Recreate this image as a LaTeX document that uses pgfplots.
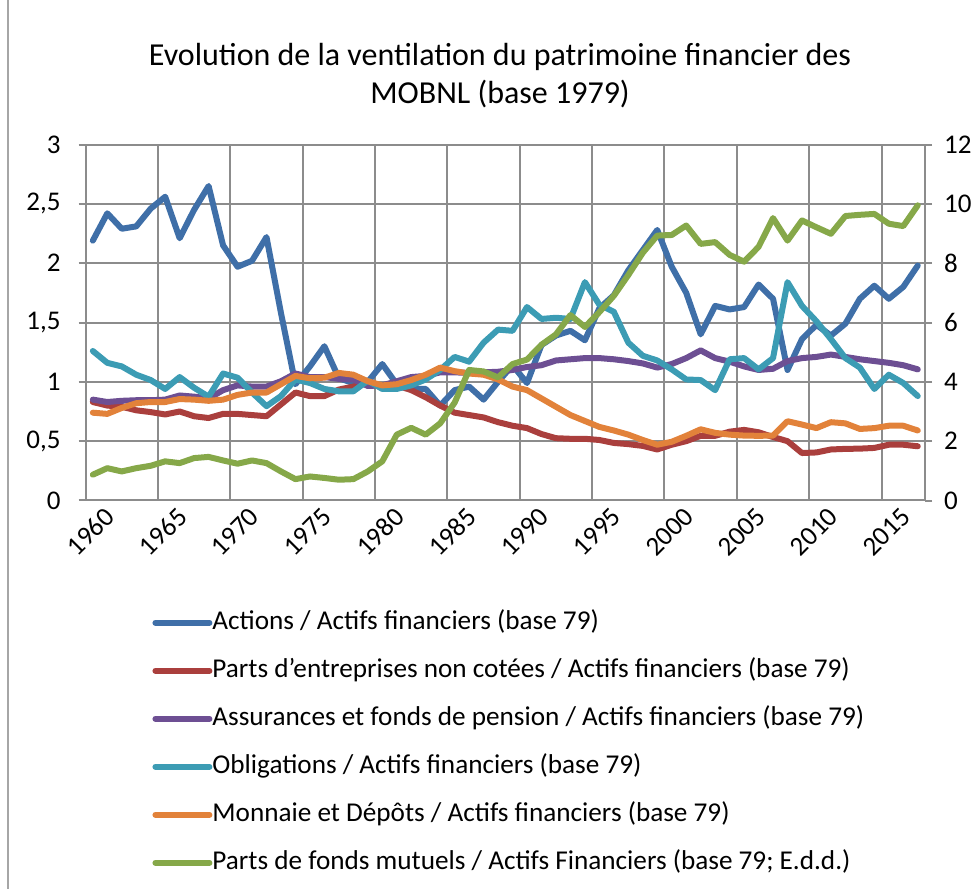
\documentclass[border=0pt]{standalone}
\usepackage{pgfplots}
\pgfplotsset{compat=1.18}
\usepackage{pgfplotstable}
\usepackage{fontspec}
\setmainfont{Carlito}
\definecolor{cA}{HTML}{3F6FA8}
\definecolor{cP}{HTML}{AA3F3D}
\definecolor{cS}{HTML}{6D4F93}
\definecolor{cO}{HTML}{3C9CB4}
\definecolor{cM}{HTML}{E2823A}
\definecolor{cF}{HTML}{86A849}
\definecolor{gridgray}{HTML}{8C8C8C}

\pgfplotstableread{
year A P S O M F
1960 2.19 0.83 0.85 1.26 0.74 0.87
1961 2.42 0.80 0.83 1.16 0.73 1.09
1962 2.29 0.79 0.84 1.13 0.78 0.98
1963 2.31 0.76 0.845 1.06 0.82 1.09
1964 2.46 0.745 0.845 1.015 0.83 1.17
1965 2.56 0.725 0.85 0.94 0.83 1.32
1966 2.21 0.75 0.885 1.04 0.855 1.26
1967 2.45 0.71 0.875 0.95 0.85 1.43
1968 2.65 0.695 0.86 0.875 0.84 1.47
1969 2.15 0.73 0.93 1.07 0.85 1.35
1970 1.97 0.73 0.97 1.035 0.89 1.24
1971 2.02 0.72 0.96 0.91 0.91 1.35
1972 2.22 0.71 0.96 0.795 0.91 1.26
1973 1.58 0.81 1.005 0.88 0.98 0.98
1974 0.98 0.91 1.07 1.02 1.05 0.72
1975 1.13 0.88 1.04 0.99 1.03 0.81
1976 1.30 0.88 1.04 0.94 1.035 0.76
1977 1.03 0.935 1.025 0.92 1.075 0.70
1978 0.99 0.96 1.02 0.92 1.06 0.72
1979 1.00 0.99 0.965 1.01 1.005 0.98
1980 1.15 0.965 0.97 0.94 0.97 1.32
1981 0.98 0.97 1.005 0.94 0.98 2.22
1982 0.94 0.93 1.04 0.97 1.015 2.45
1983 0.94 0.87 1.05 1.02 1.06 2.22
1984 0.80 0.80 1.08 1.10 1.12 2.6
1985 0.93 0.74 1.08 1.21 1.09 3.3
1986 0.96 0.72 1.075 1.17 1.07 4.4
1987 0.85 0.70 1.08 1.33 1.06 4.35
1988 1.00 0.66 1.085 1.44 1.02 4.15
1989 1.14 0.63 1.10 1.43 0.96 4.6
1990 0.99 0.61 1.125 1.63 0.93 4.75
1991 1.31 0.56 1.14 1.53 0.86 5.25
1992 1.39 0.525 1.18 1.54 0.79 5.6
1993 1.43 0.52 1.19 1.53 0.72 6.25
1994 1.35 0.52 1.20 1.84 0.67 5.85
1995 1.62 0.51 1.20 1.65 0.62 6.35
1996 1.73 0.485 1.19 1.59 0.59 6.9
1997 1.94 0.475 1.175 1.33 0.555 7.6
1998 2.11 0.46 1.155 1.22 0.51 8.35
1999 2.28 0.43 1.12 1.18 0.47 8.93
2000 1.97 0.47 1.15 1.105 0.495 8.95
2001 1.75 0.50 1.20 1.02 0.545 9.27
2002 1.40 0.545 1.265 1.015 0.60 8.65
2003 1.64 0.545 1.20 0.93 0.57 8.71
2004 1.61 0.58 1.17 1.19 0.555 8.28
2005 1.63 0.595 1.13 1.20 0.547 8.05
2006 1.82 0.575 1.10 1.105 0.545 8.55
2007 1.70 0.535 1.11 1.20 0.547 9.52
2008 1.10 0.50 1.175 1.84 0.668 8.76
2009 1.36 0.40 1.20 1.64 0.64 9.44
2010 1.48 0.405 1.21 1.51 0.61 9.21
2011 1.39 0.43 1.23 1.36 0.66 8.99
2012 1.49 0.435 1.21 1.20 0.65 9.59
2013 1.70 0.437 1.19 1.12 0.603 9.63
2014 1.81 0.443 1.175 0.94 0.61 9.66
2015 1.70 0.47 1.16 1.06 0.63 9.33
2016 1.80 0.47 1.14 0.99 0.63 9.25
2017 1.98 0.457 1.105 0.88 0.59 9.95
}\data

\begin{document}
\begin{tikzpicture}
\pgfplotsset{
  common/.style={
    scale only axis, width=419.7pt, height=178pt,
    xmin=1959.5, xmax=2017.5,
    every axis plot/.append style={line width=3pt, line join=round, line cap=round},
    tick label style={font=\fontsize{13.5}{15}\selectfont, text=black},
    axis line style={gridgray, line width=1pt},
    tick style={gridgray, line width=1pt},
    tick align=outside,
    major tick length=3.5pt,
  }
}
\begin{axis}[common,
  ymin=0, ymax=3,
  ytick={0,0.5,1,1.5,2,2.5,3},
  yticklabels={0,{0,5},1,{1,5},2,{2,5},3},
  ytick pos=left,
  xtick={1960,1965,1970,1975,1980,1985,1990,1995,2000,2005,2010,2015},
  xticklabels={1960,1965,1970,1975,1980,1985,1990,1995,2000,2005,2010,2015},
  xtick style={draw=none},
  minor xtick={1959.5,1964.5,1969.5,1974.5,1979.5,1984.5,1989.5,1994.5,1999.5,2004.5,2009.5,2014.5},
  minor tick length=0pt,
  xminorgrids=true, ymajorgrids=true,
  major grid style={gridgray, line width=1pt},
  minor grid style={gridgray, line width=1pt},
  xticklabel style={rotate=45, anchor=north east, inner sep=1pt, xshift=5.5pt, yshift=-2pt},
  yticklabel style={xshift=-5.5pt},
]
\addplot[cA] table[x=year, y=A] {\data};
\addplot[cP] table[x=year, y=P] {\data};
\addplot[cS] table[x=year, y=S] {\data};
\addplot[cO] table[x=year, y=O] {\data};
\addplot[cM] table[x=year, y=M] {\data};
\end{axis}
\begin{axis}[common,
  ymin=0, ymax=12,
  ytick={0,2,4,6,8,10,12},
  yticklabels={0,2,4,6,8,10,12},
  axis x line=none,
  axis y line*=right,
  ytick pos=right,
  yticklabel style={xshift=2.5pt},
  legend style={at={(axis description cs:0.072,-0.296)}, anchor=north west, draw=none, fill=none,
    font=\fontsize{13.6}{15}\selectfont, row sep=11.5pt, column sep=0pt,
    nodes={inner sep=0pt, text height=9.5pt, text depth=3pt}},
  legend cell align=left,
  legend image code/.code={\draw[#1] (0pt,0pt) -- (27pt,0pt);},
]
\addlegendimage{cA, line width=3pt}
\addlegendentry{Actions / Actifs financiers (base 79)}
\addlegendimage{cP, line width=3pt}
\addlegendentry{Parts d'entreprises non cotées / Actifs financiers (base 79)}
\addlegendimage{cS, line width=3pt}
\addlegendentry{Assurances et fonds de pension / Actifs financiers (base 79)}
\addlegendimage{cO, line width=3pt}
\addlegendentry{Obligations / Actifs financiers (base 79)}
\addlegendimage{cM, line width=3pt}
\addlegendentry{Monnaie et Dépôts / Actifs financiers (base 79)}
\addplot[cF] table[x=year, y=F] {\data};
\addlegendentry{Parts de fonds mutuels / Actifs Financiers (base 79; E.d.d.)}
\end{axis}
\node[align=center, font=\fontsize{16}{19}\selectfont] at (207.2pt,212.3pt)
  {Evolution de la ventilation du patrimoine financier des\\MOBNL (base 1979)};
\draw[gray!70, line width=0.75pt] (-38.8pt,-194.25pt) -- (-38.8pt,250.25pt);
\pgfresetboundingbox
\path[use as bounding box] (-42.8pt,-194.25pt) rectangle (445.2pt,250.25pt);
\end{tikzpicture}
\end{document}
